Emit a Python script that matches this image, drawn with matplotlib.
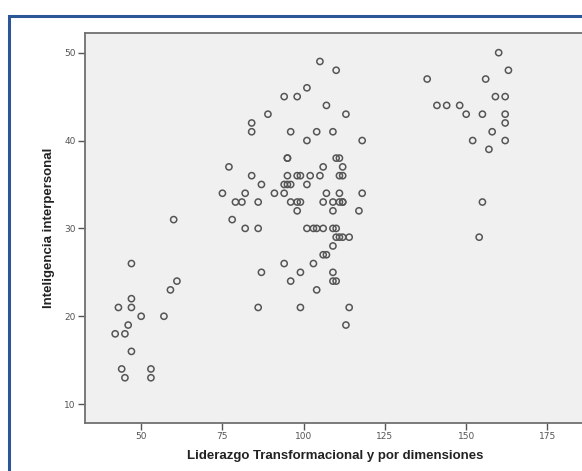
import matplotlib
matplotlib.use('Agg')
import matplotlib.pyplot as plt
from matplotlib.patches import Rectangle

# Liderazgo Transformacional (x) vs Inteligencia interpersonal (y)
liderazgo = [
    # grupo bajo
    43, 47, 47, 47, 50, 46, 42, 45, 47, 44, 45, 53, 53, 57, 59, 61, 60,
    # grupo medio
    75, 77, 79, 81, 78, 82, 82, 84, 84, 84, 86, 86, 87, 87, 86, 89, 91,
    94, 94, 94, 94, 95, 95, 95, 95, 96, 96, 96, 96, 98, 98, 99, 98, 99,
    98, 99, 99, 101, 101, 101, 101, 102, 103, 104, 103, 104, 106, 104,
    105, 105, 106, 106, 106, 107, 107, 107, 109, 109, 109, 109, 110,
    109, 109, 109, 110, 110, 110, 111, 110, 111, 112, 114, 111, 112,
    111, 111, 112, 112, 112, 113, 113, 114, 117, 118, 118,
    # grupo alto
    138, 141, 144, 148, 150, 152, 155, 155, 154, 156, 157, 158, 159,
    160, 162, 162, 162, 162, 163,
]
inteligencia = [
    21, 26, 22, 21, 20, 19, 18, 18, 16, 14, 13, 14, 13, 20, 23, 24, 31,
    34, 37, 33, 33, 31, 34, 30, 36, 42, 41, 33, 30, 35, 25, 21, 43, 34,
    45, 35, 34, 26, 38, 38, 36, 35, 35, 41, 33, 24, 45, 36, 36, 33, 33,
    32, 25, 21, 46, 40, 35, 30, 36, 26, 41, 30, 30, 30, 23,
    49, 36, 37, 33, 27, 27, 44, 34, 41, 33, 32, 30, 30,
    28, 25, 24, 24, 48, 38, 38, 29, 29, 29, 29, 36, 36,
    34, 33, 33, 33, 37, 43, 19, 21, 32, 40, 34,
    47, 44, 44, 44, 43, 40, 43, 33, 29, 47, 39, 41, 45,
    50, 45, 43, 42, 40, 48,
]

fig = plt.figure(figsize=(5.82, 4.71), dpi=100)
fig.patch.set_facecolor('white')

# marco azul exterior
fig.patches.append(Rectangle((9 / 582, -0.1), 1.2, 1 - 16 / 471 + 0.1,
                             transform=fig.transFigure, fill=False,
                             edgecolor='#2B5797', linewidth=2.2))

ax = fig.add_axes([84.5 / 582, 1 - 423 / 471, 0.935, (423 - 33) / 471])
ax.set_facecolor('#F0F0F0')
ax.scatter(liderazgo, inteligencia, s=20, facecolors='none',
           edgecolors='#555555', linewidths=1.1)

ax.set_xlim(32.56, 200)
ax.set_ylim(7.85, 52.24)
ax.set_xticks([50, 75, 100, 125, 150, 175])
ax.set_yticks([10, 20, 30, 40, 50])
ax.tick_params(labelsize=6.5, colors='#555555', length=5, width=1,
               labelcolor='#555555', pad=1.5)
for s in ax.spines.values():
    s.set_color('#707070')
    s.set_linewidth(1.3)

ax.set_xlabel('Liderazgo Transformacional y por dimensiones', fontsize=9.5,
              fontweight='bold', color='#222222', va='center',
              family='Liberation Sans')
ax.set_ylabel('Inteligencia interpersonal', fontsize=9.5, fontweight='bold',
              color='#222222', va='center', family='Liberation Sans')
ax_w = 0.935 * 582
ax_h = 423 - 33
ax.xaxis.set_label_coords((335 - 84.5) / ax_w, (423 - 456) / ax_h)
ax.yaxis.set_label_coords((49 - 84.5) / ax_w, (423 - 228) / ax_h)

fig.savefig('out.png', dpi=100)
